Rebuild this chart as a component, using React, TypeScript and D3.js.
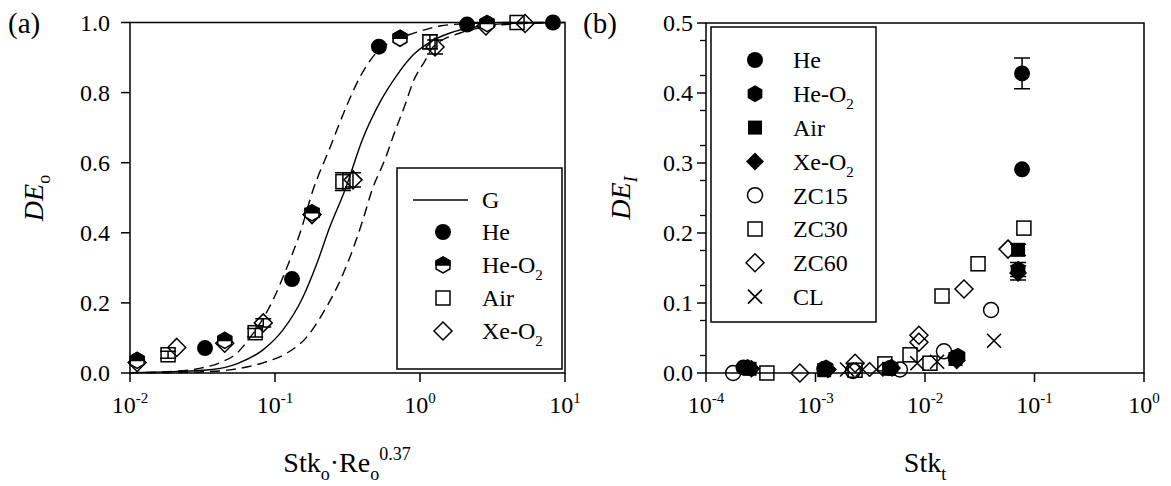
import React from "react";
import * as d3 from "d3";

// ---- panel (a): fitted curves ----
const gX = [0.01, 0.02, 0.037, 0.055, 0.0826, 0.1135, 0.156, 0.195, 0.239, 0.304, 0.404, 0.53, 0.694, 0.895, 1.17, 1.61, 2.6, 4.5, 10];
const gY = [0.001, 0.004, 0.01, 0.027, 0.066, 0.123, 0.217, 0.314, 0.417, 0.522, 0.67, 0.773, 0.85, 0.907, 0.944, 0.97, 0.99, 0.998, 1.0];
const loX = [0.01, 0.02, 0.03, 0.042, 0.0547, 0.067, 0.0968, 0.121, 0.149, 0.183, 0.239, 0.314, 0.386, 0.505, 0.728, 1.0, 1.37, 2.2, 4, 10];
const loY = [0.001, 0.005, 0.013, 0.03, 0.057, 0.1, 0.208, 0.302, 0.4, 0.522, 0.642, 0.765, 0.845, 0.916, 0.955, 0.975, 0.99, 0.997, 1.0, 1.0];
const hiX = [0.01, 0.03, 0.049, 0.0826, 0.121, 0.166, 0.214, 0.268, 0.329, 0.404, 0.467, 0.574, 0.673, 0.789, 0.895, 1.08, 1.23, 1.89, 2.6, 4.5, 10];
const hiY = [0.0, 0.003, 0.009, 0.029, 0.057, 0.103, 0.171, 0.245, 0.331, 0.437, 0.522, 0.61, 0.69, 0.765, 0.83, 0.89, 0.93, 0.97, 0.985, 0.996, 1.0];

// ---- panel (a): measured points ----
const aHeX = [0.0329, 0.131, 0.521, 2.11, 8.26];
const aHeY = [0.071, 0.268, 0.931, 0.994, 1.0];
const aHeO2X = [0.0112, 0.045, 0.18, 0.728, 2.9];
const aHeO2Y = [0.036, 0.093, 0.457, 0.955, 0.997];
const aHeO2Err = [0, 0, 0.012, 0, 0];
const aAirX = [0.0183, 0.073, 0.294, 1.17, 4.67];
const aAirY = [0.052, 0.115, 0.546, 0.945, 1.0];
const aAirErr = [0.01, 0.012, 0.025, 0.02, 0];
const aXeX = [0.0112, 0.021, 0.045, 0.083, 0.18, 0.345, 1.27, 2.85, 5.3];
const aXeY = [0.03, 0.073, 0.085, 0.143, 0.452, 0.551, 0.93, 0.99, 0.997];
const aXeErr = [0, 0, 0, 0.012, 0, 0.02, 0.02, 0, 0];

// ---- panel (b): measured points ----
const bHeX = [2.2e-4, 1.2e-3, 4.8e-3, 0.019, 0.077, 0.077];
const bHeY = [0.008, 0.006, 0.007, 0.022, 0.291, 0.428];
const bHeErr = [0, 0, 0, 0, 0, 0.022];
const bHeO2X = [2.4e-4, 1.25e-3, 4.9e-3, 0.02, 0.0708];
const bHeO2Y = [0.008, 0.007, 0.008, 0.024, 0.148];
const bHeO2Err = [0, 0, 0, 0, 0.01];
const bAirX = [2.5e-4, 1.2e-3, 4.7e-3, 0.019, 0.0708];
const bAirY = [0.006, 0.004, 0.006, 0.02, 0.176];
const bAirErr = [0, 0, 0, 0, 0.008];
const bXeX = [2.6e-4, 1.3e-3, 5.0e-3, 0.0195, 0.0708];
const bXeY = [0.006, 0.005, 0.007, 0.018, 0.143];
const bXeErr = [0, 0, 0, 0, 0.01];
const zc15X = [1.77e-4, 2.2e-3, 5.9e-3, 0.0149, 0.0401];
const zc15Y = [0.0, 0.003, 0.005, 0.031, 0.09];
const zc30X = [3.6e-4, 2.3e-3, 4.3e-3, 7.3e-3, 0.0111, 0.0143, 0.0305, 0.08];
const zc30Y = [0.0, 0.004, 0.013, 0.026, 0.014, 0.11, 0.156, 0.207];
const zc60X = [7.2e-4, 2.3e-3, 8.8e-3, 8.8e-3, 0.0227, 0.0573];
const zc60Y = [0.0, 0.014, 0.044, 0.054, 0.12, 0.177];
const clX = [1.94e-3, 2.7e-3, 3.6e-3, 8.5e-3, 0.0129, 0.0427];
const clY = [0.005, 0.005, 0.005, 0.014, 0.016, 0.046];

// ---- axis ticks ----
const aYTicks = [0, 0.2, 0.4, 0.6, 0.8, 1.0];
const aDecades = [-2, -1, 0, 1];
const bYTicks = [0, 0.1, 0.2, 0.3, 0.4, 0.5];
const bDecades = [-4, -3, -2, -1, 0];

const aLegend = ["He", "He-O2", "Air", "Xe-O2"];
const bLegend = ["He", "He-O2", "Air", "Xe-O2", "ZC15", "ZC30", "ZC60", "CL"];

const FONT = "Liberation Serif, Times New Roman, serif";

function marker(g, shape, cx, cy) {
  const m = g.append("g").attr("transform", `translate(${cx},${cy})`);
  const hex = (r) => {
    const c = 0.866 * r;
    return `M0,${-r}L${c},${-r / 2}L${c},${r / 2}L0,${r}L${-c},${r / 2}L${-c},${-r / 2}Z`;
  };
  if (shape === "circle") m.append("circle").attr("r", 8).attr("fill", "#000");
  if (shape === "ocircle") m.append("circle").attr("r", 7.5).attr("fill", "none").attr("stroke", "#000").attr("stroke-width", 1.5);
  if (shape === "hex") m.append("path").attr("d", hex(8.5)).attr("fill", "#000");
  if (shape === "hexhalf") {
    m.append("path").attr("d", hex(8)).attr("fill", "#fff").attr("stroke", "#000").attr("stroke-width", 1.5);
    const c = 0.866 * 8;
    m.append("path").attr("d", `M${-c},0L${-c},-4L0,-8L${c},-4L${c},0Z`).attr("fill", "#000").attr("stroke", "#000").attr("stroke-width", 1.5);
  }
  if (shape === "square") m.append("rect").attr("x", -7).attr("y", -7).attr("width", 14).attr("height", 14).attr("fill", "#000");
  if (shape === "osquare") m.append("rect").attr("x", -7).attr("y", -7).attr("width", 14).attr("height", 14).attr("fill", "none").attr("stroke", "#000").attr("stroke-width", 1.5);
  if (shape === "diamond") m.append("path").attr("d", "M0,-9L9,0L0,9L-9,0Z").attr("fill", "#000");
  if (shape === "odiamond") m.append("path").attr("d", "M0,-9L9,0L0,9L-9,0Z").attr("fill", "none").attr("stroke", "#000").attr("stroke-width", 1.5);
  if (shape === "cross") m.append("path").attr("d", "M-7,-7L7,7M-7,7L7,-7").attr("stroke", "#000").attr("stroke-width", 1.6);
}

function series(g, x, y, xs, ys, shape, errs?) {
  xs.forEach((v, i) => {
    const e = errs ? errs[i] : 0;
    if (e > 0) {
      const px = x(v);
      g.append("path")
        .attr("d", `M${px},${y(ys[i] - e)}V${y(ys[i] + e)}M${px - 8},${y(ys[i] - e)}H${px + 8}M${px - 8},${y(ys[i] + e)}H${px + 8}`)
        .attr("stroke", "#000").attr("stroke-width", 1.5).attr("fill", "none");
    }
    marker(g, shape, x(v), y(ys[i]));
  });
}

function axes(svg, x, y, yTicks, decades, fmt, minor, labelGap) {
  const [x0, x1] = x.range();
  const [y0, y1] = y.range();
  svg.append("rect").attr("x", x0).attr("y", y1).attr("width", x1 - x0).attr("height", y0 - y1)
    .attr("fill", "none").attr("stroke", "#000").attr("stroke-width", 1.5);
  minor.forEach((t) => {
    svg.append("line").attr("x1", x0 - 6).attr("x2", x0).attr("y1", y(t)).attr("y2", y(t)).attr("stroke", "#000").attr("stroke-width", 1.3);
  });
  yTicks.forEach((t) => {
    svg.append("line").attr("x1", x0 - 9).attr("x2", x0).attr("y1", y(t)).attr("y2", y(t)).attr("stroke", "#000").attr("stroke-width", 1.5);
    svg.append("text").attr("x", x0 - labelGap).attr("y", y(t)).attr("dy", "0.35em").attr("text-anchor", "end")
      .attr("font-size", 24).text(fmt(t));
  });
  decades.forEach((e) => {
    const px = x(Math.pow(10, e));
    svg.append("line").attr("x1", px).attr("x2", px).attr("y1", y0).attr("y2", y0 + 9).attr("stroke", "#000").attr("stroke-width", 1.5);
    const t = svg.append("text").attr("x", px).attr("y", 413).attr("text-anchor", "middle").attr("font-size", 24);
    t.append("tspan").text("10");
    t.append("tspan").attr("dy", -10).attr("font-size", 15).text(String(e));
  });
}

function legendLabel(svg, px, py, name) {
  const t = svg.append("text").attr("x", px).attr("y", py).attr("dy", "0.35em").attr("font-size", 24);
  if (name.endsWith("O2")) {
    t.append("tspan").text(name.slice(0, -1));
    t.append("tspan").attr("dy", 7).attr("font-size", 15).text("2");
  } else t.text(name);
}

function drawChart(svgEl) {
  const svg = d3.select(svgEl);
  svg.selectAll("*").remove();
  svg.attr("font-family", FONT).attr("fill", "#000");

  // ===== panel (a) =====
  const xA = d3.scaleLog().domain([0.01, 10]).range([130, 565]);
  const yA = d3.scaleLinear().domain([0, 1]).range([373, 22.5]);
  axes(svg, xA, yA, aYTicks, aDecades, d3.format(".1f"), [], 20);

  const line = d3.line<[number, number]>().x((d) => xA(d[0])).y((d) => yA(d[1])).curve(d3.curveMonotoneX);
  const curves = svg.append("g").attr("fill", "none").attr("stroke", "#000").attr("stroke-width", 1.4);
  curves.append("path").attr("d", line(d3.zip(gX, gY) as [number, number][]));
  curves.append("path").attr("d", line(d3.zip(loX, loY) as [number, number][])).attr("stroke-dasharray", "10,6");
  curves.append("path").attr("d", line(d3.zip(hiX, hiY) as [number, number][])).attr("stroke-dasharray", "10,6");

  const ga = svg.append("g");
  series(ga, xA, yA, aAirX, aAirY, "osquare", aAirErr);
  series(ga, xA, yA, aXeX, aXeY, "odiamond", aXeErr);
  series(ga, xA, yA, aHeX, aHeY, "circle");
  series(ga, xA, yA, aHeO2X, aHeO2Y, "hexhalf", aHeO2Err);

  // legend (a)
  svg.append("rect").attr("x", 397).attr("y", 168).attr("width", 165).attr("height", 201)
    .attr("fill", "#fff").attr("stroke", "#000").attr("stroke-width", 1.5);
  svg.append("line").attr("x1", 413).attr("x2", 468).attr("y1", 200).attr("y2", 200).attr("stroke", "#000").attr("stroke-width", 1.4);
  legendLabel(svg, 482, 200, "G");
  const aShapes = ["circle", "hexhalf", "osquare", "odiamond"];
  aLegend.forEach((n, i) => {
    const py = 232 + i * 33;
    marker(svg, aShapes[i], 443, py);
    legendLabel(svg, 482, py, n);
  });

  svg.append("text").attr("x", 8).attr("y", 33).attr("font-size", 29).text("(a)");
  const ya = svg.append("text").attr("transform", "translate(43,198) rotate(-90)").attr("text-anchor", "middle").attr("font-size", 28);
  ya.append("tspan").attr("font-style", "italic").text("DE");
  ya.append("tspan").attr("dy", 7).attr("font-size", 18).text("o");
  const xa = svg.append("text").attr("x", 347).attr("y", 472).attr("text-anchor", "middle").attr("font-size", 28);
  xa.append("tspan").text("Stk");
  xa.append("tspan").attr("dy", 8).attr("font-size", 18).text("o");
  xa.append("tspan").attr("dy", -8).text("\u00b7Re");
  xa.append("tspan").attr("dy", 8).attr("font-size", 18).text("o");
  xa.append("tspan").attr("dy", -20).attr("font-size", 18).text("0.37");

  // ===== panel (b) =====
  const xB = d3.scaleLog().domain([1e-4, 1]).range([706, 1144]);
  const yB = d3.scaleLinear().domain([0, 0.5]).range([373, 23]);
  const minorB = d3.range(0.025, 0.5, 0.05);
  axes(svg, xB, yB, bYTicks, bDecades, d3.format(".1f"), minorB, 13);

  // legend (b)
  svg.append("rect").attr("x", 711).attr("y", 27).attr("width", 165).attr("height", 295)
    .attr("fill", "#fff").attr("stroke", "#000").attr("stroke-width", 1.5);
  const bShapes = ["circle", "hex", "square", "diamond", "ocircle", "osquare", "odiamond", "cross"];
  bLegend.forEach((n, i) => {
    const py = 60 + i * 33.8;
    marker(svg, bShapes[i], 755, py);
    legendLabel(svg, 793, py, n);
  });

  const gb = svg.append("g");
  series(gb, xB, yB, zc15X, zc15Y, "ocircle");
  series(gb, xB, yB, zc30X, zc30Y, "osquare");
  series(gb, xB, yB, zc60X, zc60Y, "odiamond");
  series(gb, xB, yB, clX, clY, "cross");
  series(gb, xB, yB, bAirX, bAirY, "square", bAirErr);
  series(gb, xB, yB, bXeX, bXeY, "diamond", bXeErr);
  series(gb, xB, yB, bHeO2X, bHeO2Y, "hex", bHeO2Err);
  series(gb, xB, yB, bHeX, bHeY, "circle", bHeErr);

  svg.append("text").attr("x", 583).attr("y", 33).attr("font-size", 29).text("(b)");
  const yb = svg.append("text").attr("transform", "translate(630,198) rotate(-90)").attr("text-anchor", "middle").attr("font-size", 28);
  yb.append("tspan").attr("font-style", "italic").text("DE");
  yb.append("tspan").attr("dy", 7).attr("font-size", 18).attr("font-style", "italic").text("I");
  const xb = svg.append("text").attr("x", 925).attr("y", 472).attr("text-anchor", "middle").attr("font-size", 28);
  xb.append("tspan").text("Stk");
  xb.append("tspan").attr("dy", 8).attr("font-size", 18).text("t");
}

const App = () => {
  const svg = React.useRef<SVGSVGElement>(null);
  React.useEffect(() => {
    drawChart(svg.current);
  }, []);
  return (
    <svg ref={svg} width={1171} height={486} style={{ position: "absolute", left: 0, top: 0, background: "#fff" }} />
  );
};

export default App;
